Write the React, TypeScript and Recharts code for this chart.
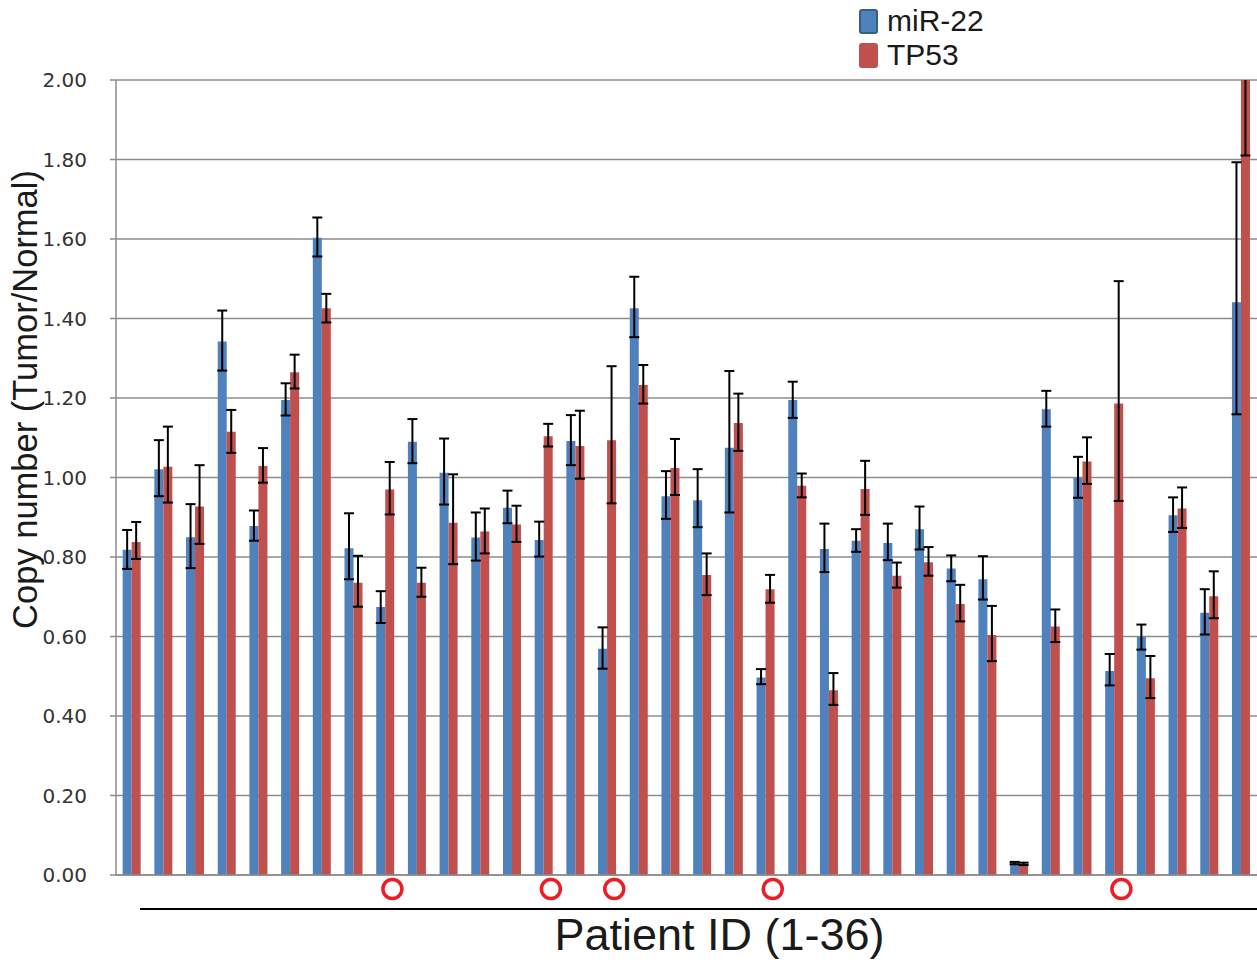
import React from 'react';
import { BarChart, Bar, XAxis, YAxis, CartesianGrid, ErrorBar, Legend } from 'recharts';

const patients = [
  '1', '2', '3', '4', '5', '6', '7', '8', '9', '10', '11', '12',
  '13', '14', '15', '16', '17', '18', '19', '20', '21', '22', '23', '24',
  '25', '26', '27', '28', '29', '30', '31', '32', '33', '34', '35', '36',
];

const mir22 = [
  0.818, 1.021, 0.85, 1.342, 0.878, 1.195, 1.603, 0.822, 0.674, 1.09, 1.012, 0.849,
  0.924, 0.843, 1.092, 0.569, 1.426, 0.953, 0.943, 1.075, 0.497, 1.195, 0.82, 0.841,
  0.835, 0.87, 0.771, 0.744, 0.03, 1.172, 0.999, 0.513, 0.599, 0.905, 0.66, 1.441,
];
const mir22ErrLow = [
  0.048, 0.068, 0.078, 0.073, 0.037, 0.039, 0.047, 0.078, 0.04, 0.054, 0.08, 0.058,
  0.039, 0.042, 0.061, 0.05, 0.073, 0.057, 0.068, 0.163, 0.017, 0.045, 0.058, 0.028,
  0.043, 0.051, 0.032, 0.051, 0.003, 0.044, 0.05, 0.036, 0.032, 0.042, 0.055, 0.282,
];
const mir22ErrHigh = [
  0.05, 0.073, 0.083, 0.078, 0.039, 0.042, 0.051, 0.088, 0.04, 0.057, 0.086, 0.063,
  0.043, 0.046, 0.065, 0.054, 0.079, 0.063, 0.078, 0.193, 0.021, 0.046, 0.064, 0.029,
  0.049, 0.057, 0.033, 0.058, 0.003, 0.046, 0.053, 0.043, 0.031, 0.045, 0.059, 0.352,
];

const tp53 = [
  0.838, 1.027, 0.927, 1.115, 1.029, 1.265, 1.426, 0.735, 0.97, 0.735, 0.886, 0.864,
  0.882, 1.104, 1.079, 1.094, 1.233, 1.024, 0.755, 1.137, 0.719, 0.979, 0.465, 0.971,
  0.753, 0.787, 0.682, 0.604, 0.028, 0.625, 1.04, 1.186, 0.495, 0.922, 0.701, 2.1,
];
const tp53ErrLow = [
  0.043, 0.09, 0.094, 0.053, 0.042, 0.041, 0.036, 0.06, 0.063, 0.035, 0.104, 0.055,
  0.044, 0.026, 0.082, 0.159, 0.047, 0.068, 0.051, 0.07, 0.034, 0.029, 0.037, 0.065,
  0.03, 0.034, 0.044, 0.066, 0.003, 0.039, 0.056, 0.245, 0.05, 0.049, 0.055, 0.29,
];
const tp53ErrHigh = [
  0.05, 0.101, 0.104, 0.055, 0.045, 0.044, 0.036, 0.068, 0.069, 0.038, 0.122, 0.058,
  0.047, 0.031, 0.089, 0.186, 0.05, 0.073, 0.054, 0.074, 0.036, 0.031, 0.043, 0.071,
  0.033, 0.038, 0.048, 0.073, 0.003, 0.043, 0.061, 0.308, 0.056, 0.053, 0.063, 0.29,
];

const yTicks = [0, 0.2, 0.4, 0.6, 0.8, 1.0, 1.2, 1.4, 1.6, 1.8, 2.0];
const markedPatients = ['9', '14', '16', '21', '32'];

const seriesInfo = [
  { key: 'mir22', name: 'miR-22', color: '#4F81BD', border: '#385D8A' },
  { key: 'tp53', name: 'TP53', color: '#C0504D', border: '#C0504D' },
];

const data = patients.map((p, i) => ({
  patient: p,
  mir22: mir22[i],
  mir22Err: [mir22ErrLow[i], mir22ErrHigh[i]],
  tp53: tp53[i],
  tp53Err: [tp53ErrLow[i], tp53ErrHigh[i]],
}));

const GRID = '#8c8c8c';

const CircleTick = (props: any) => {
  const { x, y, payload } = props;
  if (!markedPatients.includes(String(payload.value))) return <g />;
  return (
    <circle cx={x + 7} cy={y + 14} r={9.5} fill="#fff" stroke="#EE1C24" strokeWidth={3.5} />
  );
};

const XLabel = (props: any) => {
  const vb = props.viewBox || {};
  const lineY = vb.y + 34;
  return (
    <g>
      <line x1={vb.x + 24} x2={vb.x + vb.width} y1={lineY} y2={lineY} stroke="#000" strokeWidth={2} />
      <text
        x={vb.x + vb.width / 2 + 33}
        y={vb.y + 75}
        textAnchor="middle"
        fontFamily="Liberation Sans, Arial, sans-serif"
        fontSize={45}
        fill="#1a1a1a"
      >
        Patient ID (1-36)
      </text>
    </g>
  );
};

const YLabel = (props: any) => {
  const vb = props.viewBox || {};
  const cx = 37;
  const cy = vb.y + vb.height / 2 - 78;
  return (
    <text
      x={cx}
      y={cy}
      transform={`rotate(-90, ${cx}, ${cy})`}
      textAnchor="middle"
      fontFamily="Liberation Sans, Arial, sans-serif"
      fontSize={34.5}
      fill="#1a1a1a"
    >
      Copy number (Tumor/Normal)
    </text>
  );
};

const LegendContent = () => (
  <div style={{ fontFamily: 'Liberation Sans, Arial, sans-serif', fontSize: 30, color: '#1a1a1a' }}>
    {seriesInfo.map((s) => (
      <div key={s.key} style={{ display: 'flex', alignItems: 'center', height: 34 }}>
        <span
          style={{
            display: 'inline-block',
            width: 15,
            height: 21,
            background: s.color,
            border: `2px solid ${s.border}`,
            borderRadius: 3,
            marginRight: 9,
          }}
        />
        <span>{s.name}</span>
      </div>
    ))}
  </div>
);

export default function App() {
  return (
    <div style={{ position: 'absolute', left: 0, top: 0, background: '#fff' }}>
      <BarChart
        width={1257}
        height={964}
        data={data}
        margin={{ top: 80, right: 0, bottom: 0, left: 0 }}
        barCategoryGap="21%"
        barGap={0}
      >
        <CartesianGrid vertical={false} stroke={GRID} strokeWidth={1.5} />
        <XAxis
          dataKey="patient"
          height={89}
          interval={0}
          axisLine={{ stroke: GRID, strokeWidth: 1.5 }}
          tickLine={false}
          tickSize={0}
          tickMargin={0}
          tick={<CircleTick />}
          label={<XLabel />}
        />
        <YAxis
          domain={[0, 2]}
          ticks={yTicks}
          allowDataOverflow
          width={116}
          tickSize={6}
          tickMargin={23}
          axisLine={{ stroke: GRID, strokeWidth: 1.5 }}
          tickLine={{ stroke: GRID, strokeWidth: 1.5 }}
          tick={{ fontFamily: 'DejaVu Sans, Verdana, sans-serif', fontSize: 20, fill: '#333' }}
          tickFormatter={(v: number) => v.toFixed(2)}
          label={<YLabel />}
        />
        <Legend
          layout="vertical"
          align="center"
          verticalAlign="middle"
          content={<LegendContent />}
          wrapperStyle={{ top: 4, left: 859, width: 200, height: 70 }}
        />
        <Bar id="mirbar" dataKey="mir22" name="miR-22" fill="#4F81BD" isAnimationActive={false}>
          <ErrorBar
            dataKey="mir22Err"
            width={5}
            stroke="#000"
            strokeWidth={2}
            direction="y"
            clipPath="url(#clipPath-mirbar)"
          />
        </Bar>
        <Bar id="tp53bar" dataKey="tp53" name="TP53" fill="#C0504D" isAnimationActive={false}>
          <ErrorBar
            dataKey="tp53Err"
            width={5}
            stroke="#000"
            strokeWidth={2}
            direction="y"
            clipPath="url(#clipPath-tp53bar)"
          />
        </Bar>
      </BarChart>
    </div>
  );
}
